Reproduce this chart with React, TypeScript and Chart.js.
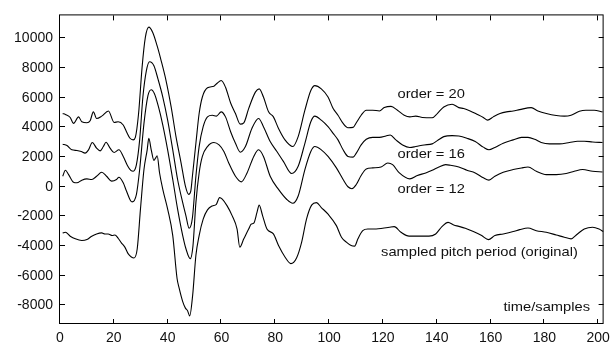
import { useEffect, useRef } from "react";
import { Chart, registerables } from "chart.js";
Chart.register(...registerables);

const xTicks = [0, 20, 40, 60, 80, 100, 120, 140, 160, 180, 200];
const yTicks = [-8000, -6000, -4000, -2000, 0, 2000, 4000, 6000, 8000, 10000];

const order20: [number, number][] = [
  [1,4935],[2,4870],[3.8,4670],[5,4270],[6.9,4710],[8.1,4380],[10,4310],[11.2,4450],[12.4,5050],[13.6,4600],[15.5,4760],[18,5110],[20.1,4335],[21.6,4380],[23.5,4160],[24.7,3710],[26,3270],[27.2,3160],[28,3330],[29.2,4935],[30.5,8050],[31.7,10050],[33,10760],[34.5,10380],[36.1,9490],[37.6,8490],[39.4,7160],[41.3,5380],[43.1,3380],[45,1600],[46.6,45],[47.8,-510],[48.6,-290],[49.2,710],[50.5,2930],[51.7,4935],[52.9,6050],[54.8,6670],[57.2,6780],[58.4,6980],[59.9,7160],[61.5,6710],[63.4,5650],[65.2,4935],[67,4220],[68.3,4310],[70.1,5270],[72.6,6380],[74,6600],[75.6,6050],[77.5,5050],[79.3,4710],[81.2,3930],[83.6,3160],[86.5,2710],[88.5,3380],[91,5160],[93.2,6490],[94.7,6820],[97.1,6600],[99.6,6050],[101.5,5270],[103.3,4820],[105.2,4270],[107,3980],[108.9,4000],[110.1,4310],[111.9,4820],[113.8,5160],[116.2,5160],[118.7,5110],[120.5,5335],[123,5420],[125.4,5160],[127.9,4820],[130,4710],[132.2,4760],[134.7,4670],[138.3,4650],[140.2,4935],[142.6,5380],[145.7,5560],[148.2,5335],[150,5270],[152.4,5110],[154.9,4890],[157.3,4670],[158.9,4490],[161,4710],[163.5,4935],[165.9,5050],[168.4,5110],[170.8,5200],[175.1,5335],[177.6,5110],[180.7,4935],[184.4,4800],[187.4,4760],[189.9,4820],[193,5090],[195.4,5160],[198.5,5160],[201.6,5050]
];

const order16: [number, number][] = [
  [1,2870],[2.6,2780],[4.4,2490],[6.3,2445],[7.9,2380],[9.3,2270],[10.6,2490],[12,2980],[13.6,2600],[14.9,2420],[16.1,2710],[17.1,3000],[18.6,2600],[20.1,2310],[21.9,2490],[23.5,2045],[25.1,1420],[26.3,1110],[27.2,1045],[28.4,1490],[29.6,3160],[30.8,6050],[32.1,7830],[33.3,8430],[34.9,8160],[36.4,7270],[38.2,6050],[40,4490],[41.9,2490],[43.7,490],[45.6,-1070],[46.8,-1960],[48,-2800],[49.2,-2100],[50.5,710],[51.7,2710],[53.2,4050],[54.8,4710],[56.6,4820],[58.1,4760],[59.9,5050],[61.5,4710],[63.4,3710],[65.2,2930],[67,2330],[68.9,2710],[71.3,3930],[73.8,4600],[75.6,4050],[78.1,3050],[80.6,2380],[83,1710],[86.1,890],[88.5,1380],[91,2930],[93.2,4380],[94.7,4760],[97.1,4490],[99.6,4050],[101.5,3600],[103.3,3160],[105.2,2490],[107,2045],[108.9,2000],[110.1,2270],[111.9,2820],[113.8,3200],[116.2,3330],[118.7,3330],[121.1,3420],[122.7,3490],[124.8,3160],[127.3,2820],[130,2650],[132.2,2710],[135.3,2820],[138.3,2890],[140.2,3110],[142.6,3380],[145.7,3450],[148.2,3420],[151.2,3270],[154.3,3050],[157.3,2670],[159.4,2490],[161.6,2650],[164.7,2930],[168.4,3160],[171.5,3330],[173.9,3330],[176.4,3200],[178.8,2980],[181.9,2890],[185.6,2890],[189.3,2980],[192.3,3070],[194.8,3070],[197.9,3020],[201.6,2980]
];

const order12: [number, number][] = [
  [1,710],[2,1110],[3.2,820],[5,310],[6.3,270],[8.1,445],[10,530],[11.8,490],[13.6,710],[15.5,980],[17.3,710],[19.2,380],[21,490],[21.9,645],[23.5,270],[24.7,-290],[26.3,-960],[26.8,-1020],[28.4,-510],[29.6,1160],[31.2,4270],[32.7,6160],[33.9,6540],[35.1,6270],[36.6,5380],[38.2,4160],[40,2490],[41.9,490],[43.7,-1510],[45.6,-3290],[46.8,-4180],[48.4,-4850],[49.4,-4000],[50.5,-1070],[51.7,930],[52.9,2045],[54.8,2710],[57.2,2980],[59.1,2820],[60.9,2380],[62.7,1600],[65.2,710],[67.4,330],[69.5,930],[72,2045],[73.8,2490],[75.6,2045],[78.1,710],[81.2,-180],[84.2,-840],[86.5,-1110],[88.5,-620],[91,1160],[93.2,2380],[94.7,2710],[97.1,2490],[99.6,2045],[102.7,1270],[105.2,490],[107,0],[108.5,-130],[110.1,155],[111.9,760],[113.8,1200],[116.2,1270],[119.3,1330],[121.8,1600],[123.6,1490],[126.1,930],[130,530],[132.8,760],[135.9,930],[138.3,1110],[140.8,1330],[143.3,1490],[145.1,1445],[148.2,1330],[151.2,1110],[154.3,930],[157.3,600],[159.4,445],[161.6,710],[164.7,980],[168.4,1160],[171.5,1270],[173.9,1330],[177,1045],[180.7,820],[184.4,820],[188.1,890],[191.1,1045],[194.2,1160],[197.9,1045],[201.6,1000]
];

const original: [number, number][] = [
  [1,-3110],[2,-3070],[3.8,-3330],[5.7,-3510],[8.1,-3620],[10,-3560],[11.8,-3330],[13.6,-3180],[15.5,-3110],[16.7,-3180],[17.9,-3180],[19.4,-3290],[20.4,-3250],[21.6,-3470],[22.8,-3780],[24.1,-4070],[25.3,-4510],[26.5,-4730],[27.5,-4800],[28.7,-4180],[29.9,-1510],[31.2,1160],[32.4,2490],[33,3270],[33.9,2490],[34.9,1780],[35.5,1930],[36.1,2090],[37,930],[38.2,-180],[40,-1510],[41.9,-3290],[43.5,-6180],[44.3,-6850],[45.6,-7740],[46.6,-8180],[47.4,-8350],[48.2,-8700],[49.3,-7300],[50.5,-4620],[51.7,-3290],[53.2,-2180],[54.8,-1560],[56.6,-1290],[58.1,-1180],[59.3,-730],[60.3,-840],[62.1,-1290],[64,-1960],[65.8,-2850],[66.8,-4070],[68.3,-3510],[70.1,-2850],[71.1,-2510],[72,-2450],[73.2,-1730],[74,-1240],[75.3,-1960],[76.9,-2850],[79.3,-3180],[81.2,-3960],[83.6,-4730],[85.8,-5180],[87.9,-4800],[89.8,-3730],[91.6,-2180],[93.5,-1240],[95.3,-1070],[97.1,-1400],[99.6,-1850],[102.7,-2620],[104.6,-3400],[106.4,-3730],[108.2,-3960],[109.5,-4000],[110.7,-3510],[112.5,-2960],[114.4,-2850],[117.5,-2850],[119.9,-2800],[122.4,-2730],[124.2,-2690],[126.7,-3070],[129.7,-3330],[133.4,-3330],[137.1,-3330],[139.6,-3180],[142,-2670],[144.2,-2400],[146.3,-2580],[148.2,-2670],[150.6,-2800],[153.6,-3020],[156.7,-3290],[159.2,-3560],[161.6,-3290],[164.7,-3180],[168.4,-3020],[170.8,-2890],[173.9,-2780],[177,-2960],[180.7,-3070],[184.4,-3250],[187.4,-3400],[189.9,-3510],[192.3,-3180],[194.8,-2850],[197.9,-2730],[200.3,-2850],[201.9,-3020]
];

const noteTexts = ["order = 20", "order = 16", "order = 12", "sampled pitch period (original)", "time/samples"];
const noteX = [125.4, 125.4, 125.4, 119.3, 164.8];
const noteY = [6250, 2160, -170, -4400, -8140];

const FONT = '"Liberation Sans", Arial, Helvetica, sans-serif';
const TICK_SIZE = 14;
const NOTE_SIZE = 13;
const NOTE_STRETCH = 1.13;

export default function App() {
  const ref = useRef<HTMLCanvasElement>(null);
  useEffect(() => {
    document.body.style.margin = "0";
    const toPts = (a: [number, number][]) => a.map(([x, y]) => ({ x, y }));
    const mk = (a: [number, number][], label: string) => ({
      label,
      data: toPts(a),
      borderColor: "#000",
      borderWidth: 1.1,
      pointRadius: 0,
      fill: false,
      cubicInterpolationMode: "monotone",
    });
    const framePlugin = {
      id: "frame",
      afterDraw(chart: any) {
        const { ctx, chartArea } = chart;
        const { left, right, top, bottom } = chartArea;
        const xs = chart.scales.x;
        const ys = chart.scales.y;
        ctx.save();
        ctx.strokeStyle = "#000";
        ctx.lineWidth = 1;
        ctx.strokeRect(left - 0.5, top - 0.5, right - left, bottom - top);
        const tl = 5;
        ctx.beginPath();
        for (const v of xTicks) {
          const p = Math.round(xs.getPixelForValue(v)) - 0.5;
          ctx.moveTo(p, bottom);
          ctx.lineTo(p, bottom - tl);
          ctx.moveTo(p, top);
          ctx.lineTo(p, top + tl);
        }
        for (const v of yTicks) {
          const p = Math.round(ys.getPixelForValue(v)) - 0.5;
          ctx.moveTo(left, p);
          ctx.lineTo(left + tl, p);
          ctx.moveTo(right, p);
          ctx.lineTo(right - tl, p);
        }
        ctx.stroke();
        ctx.fillStyle = "#111";
        ctx.font = `${NOTE_SIZE}px ${FONT}`;
        ctx.textAlign = "left";
        ctx.textBaseline = "middle";
        noteTexts.forEach((t, i) => {
          const px = xs.getPixelForValue(noteX[i]);
          const py = ys.getPixelForValue(noteY[i]);
          ctx.save();
          ctx.translate(px, py);
          ctx.scale(NOTE_STRETCH, 1);
          ctx.fillText(t, 0, 0);
          ctx.restore();
        });
        ctx.restore();
      },
    };
    const chart = new Chart(ref.current as HTMLCanvasElement, {
      type: "line",
      data: {
        datasets: [
          mk(order20, "order = 20"),
          mk(order16, "order = 16"),
          mk(order12, "order = 12"),
          mk(original, "original"),
        ],
      },
      options: {
        animation: false,
        responsive: true,
        maintainAspectRatio: false,
        layout: { padding: { top: 13, right: 9, left: 0, bottom: 0 } },
        plugins: { legend: { display: false }, tooltip: { enabled: false } },
        scales: {
          x: {
            type: "linear",
            min: 0,
            max: 202,
            grid: { display: false, drawTicks: false },
            border: { display: false },
            afterBuildTicks: (s: any) => {
              s.ticks = xTicks.map((v) => ({ value: v }));
            },
            afterFit: (s: any) => {
              s.height = 21;
            },
            ticks: {
              color: "#111",
              padding: 6,
              maxRotation: 0,
              autoSkip: false,
              font: { family: FONT, size: TICK_SIZE },
              callback: (v: any) => String(v),
            },
          },
          y: {
            type: "linear",
            min: -9250,
            max: 11550,
            grid: { display: false, drawTicks: false },
            border: { display: false },
            afterBuildTicks: (s: any) => {
              s.ticks = yTicks.map((v) => ({ value: v }));
            },
            afterFit: (s: any) => {
              s.width = 60;
            },
            ticks: {
              color: "#111",
              padding: 7,
              autoSkip: false,
              font: { family: FONT, size: TICK_SIZE },
              callback: (v: any) => String(v),
            },
          },
        },
      },
      plugins: [framePlugin],
    } as any);
    return () => chart.destroy();
  }, []);
  return (
    <div style={{ width: 616, height: 345, position: "relative" }}>
      <canvas ref={ref} />
    </div>
  );
}
